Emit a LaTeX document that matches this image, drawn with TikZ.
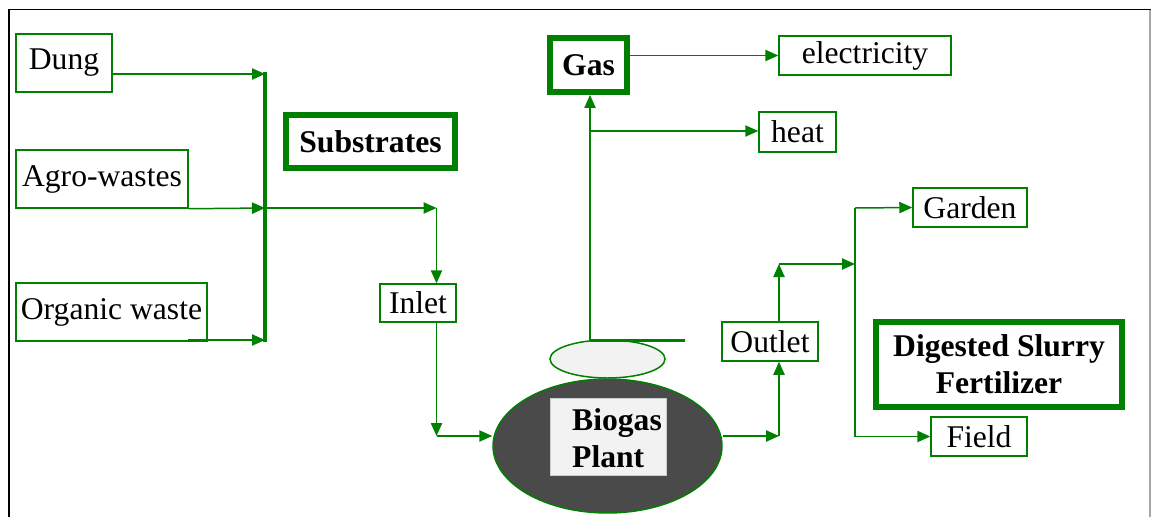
\documentclass[tikz,border=0pt]{standalone}
\usepackage{fontspec}
\setmainfont{Liberation Serif}
\usetikzlibrary{arrows.meta,shapes.geometric}
\definecolor{gr}{HTML}{008000}
\definecolor{darkfill}{HTML}{4A4A4A}
\definecolor{lightfill}{HTML}{F2F2F2}
\begin{document}
\begin{tikzpicture}[x=0.02cm,y=-0.02cm,
  txt/.style={font=\fontsize{18}{21.6}\selectfont},
  box/.style={draw=gr, line width=0.85pt, inner sep=0pt, txt},
  tbox/.style={draw=gr, line width=3.4pt, inner sep=0pt, txt, font=\fontsize{18}{21.6}\selectfont\bfseries},
  conn/.style={draw=gr, line width=0.85pt, -{Triangle[length=7.4pt,width=6.4pt]}},
  ln/.style={draw=gr, line width=0.85pt}]
\useasboundingbox (0,0) rectangle (1151,517);
\fill[white] (0,0) rectangle (1151,517);
% frame
\draw[black, line width=1.1pt] (8,9.5) -- (1151,9.5);
\draw[black, line width=1.1pt] (9,9.5) -- (9,517);
\draw[gray!70, line width=0.6pt] (1150,10) -- (1150,517);

% nodes
\node[box, minimum width=1.92cm, minimum height=1.16cm] (dung) at (64,63) {Dung};
\node[box, minimum width=3.44cm, minimum height=1.16cm] (agro) at (102,179) {Agro-wastes};
\node[box, minimum width=3.82cm, minimum height=1.16cm] (org) at (111.5,312) {Organic waste};
\node[tbox, minimum width=3.38cm, minimum height=1.06cm] (subs) at (370.5,141.5) {Substrates};
\node[box, minimum width=1.52cm, minimum height=0.76cm] (inlet) at (418,303) {Inlet};
\node[tbox, minimum width=1.54cm, minimum height=1.08cm] (gas) at (588.5,65) {Gas};
\node[box, minimum width=3.44cm, minimum height=0.78cm] (elec) at (865,55.5) {electricity};
\node[box, minimum width=1.54cm, minimum height=0.8cm] (heat) at (797.5,132) {heat};
\node[box, minimum width=1.92cm, minimum height=0.78cm] (outlet) at (770,341.5) {Outlet};
\node[box, minimum width=2.28cm, minimum height=0.78cm] (garden) at (970,207.5) {Garden};
\node[tbox, minimum width=4.92cm, minimum height=1.7cm, align=center] (slurry) at (999,364.5) {Digested Slurry\\[-0.5pt]Fertilizer};
\node[box, minimum width=1.92cm, minimum height=0.78cm] (field) at (979,436.5) {Field};

% biogas plant
\node[ellipse, draw=gr, line width=0.85pt, fill=lightfill, minimum width=2.3cm, minimum height=0.76cm, inner sep=0pt] (cap) at (607.5,359) {};
\node[ellipse, draw=gr, line width=0.85pt, fill=darkfill, minimum width=4.58cm, minimum height=2.68cm, inner sep=0pt] (plant) at (607.5,446) {};
\node[fill=lightfill, draw=gray!40, line width=0.3pt, minimum width=2.32cm, minimum height=1.54cm, inner sep=0pt] (label) at (608,436.5) {};
\node[txt, font=\fontsize{18}{21.6}\selectfont\bfseries, align=left, anchor=west] (pltxt) at (566,438) {Biogas\\[-0.5pt]Plant};

% substrate bar
\coordinate (b1) at (265,74);
\coordinate (b2) at (265,208);
\coordinate (b3) at (265,340);
\coordinate (o1) at (188,340);
\draw[gr, line width=2.3pt] (265,72) -- (265,342);
\draw[conn] (dung.east |- b1) -- (b1);
\draw[conn] (agro.south east) -- (b2);
\draw[conn] (o1) -- (b3);

% to inlet
\coordinate (c1) at (436.5,208);
\coordinate (c2) at (436.5,436);
\draw[conn] (b2) -- (c1);
\draw[conn] (c1) -- (inlet.north -| c1);
\draw[conn] (inlet.south -| c1) -- (c2);
\draw[conn] (c2) -- (plant.west |- c2);

% to outlet
\coordinate (d1) at (779,436);
\coordinate (d2) at (779,264);
\coordinate (d3) at (855,264);
\coordinate (gtop) at (855,208);
\coordinate (gbot) at (855,436.5);
\draw[conn] (plant.east |- d1) -- (d1);
\draw[conn] (d1) -- (outlet.south -| d1);
\draw[conn] (outlet.north -| d1) -- (d2);
\draw[conn] (d2) -- (d3);
\draw[ln] (gtop) -- (gbot);
\draw[conn] (gtop) -- (garden.west);
\draw[conn] (gbot) -- (field.west);

% gas
\coordinate (g0) at (590,340.5);
\coordinate (g1) at (590,131);
\coordinate (g2) at (685,340.5);
\draw[gr, line width=1.3pt] (g0) -- (g2);
\draw[conn] (g0) -- (gas.south -| g0);
\draw[conn] (g1) -- (heat.west |- g1);
\draw[conn] (gas.east |- elec.west) -- (elec.west);
\end{tikzpicture}
\end{document}
